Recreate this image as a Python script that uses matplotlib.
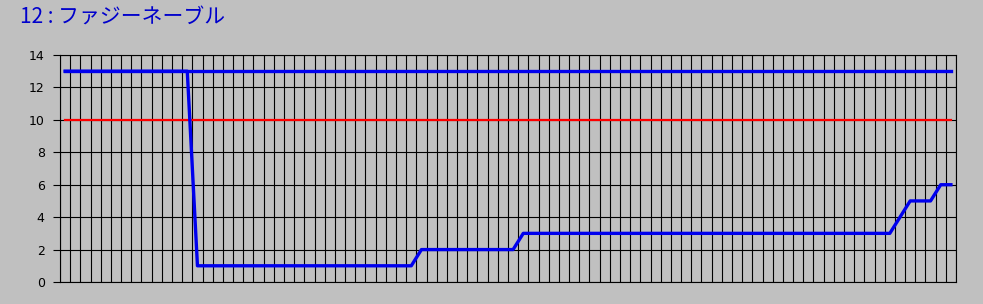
import numpy as np
import matplotlib
matplotlib.use("Agg")
import matplotlib.pyplot as plt

title = "12 : ファジーネーブル"

# max line, limit line and the measured series (one value per category)
max_line = [13] * 88
limit_line = [10] * 88
values = [13, 13, 13, 13, 13, 13, 13, 13, 13, 13, 13, 13, 13,
          1, 1, 1, 1, 1, 1, 1, 1, 1, 1, 1, 1, 1, 1, 1, 1, 1, 1, 1, 1, 1, 1,
          2, 2, 2, 2, 2, 2, 2, 2, 2, 2,
          3, 3, 3, 3, 3, 3, 3, 3, 3, 3, 3, 3, 3, 3, 3, 3, 3, 3, 3, 3, 3, 3,
          3, 3, 3, 3, 3, 3, 3, 3, 3, 3, 3, 3, 3, 3, 3,
          4, 5, 5, 5, 6, 6]
yticks = [0, 2, 4, 6, 8, 10, 12, 14]

bg = "#c0c0c0"
fig = plt.figure(figsize=(9.83, 3.04), dpi=100, facecolor=bg)
ax = fig.add_axes([60 / 983, 22 / 304, 896 / 983, 227 / 304], facecolor=bg)

n = len(values)
x = np.arange(n) + 0.5

ax.plot(x, limit_line, color="#ff0000", lw=1.6, zorder=3)
ax.plot(x, max_line, color="#0000ee", lw=2.4, zorder=4, solid_capstyle="projecting")
ax.plot(x, values, color="#0000ee", lw=2.4, zorder=4, solid_capstyle="projecting")

ax.set_xlim(0, n)
ax.set_ylim(0, 14)
ax.set_xticks(np.arange(n + 1))
ax.set_xticklabels([])
ax.tick_params(axis="x", length=0)
ax.set_yticks(yticks)
ax.set_yticklabels([str(v) for v in yticks], fontsize=9)
ax.tick_params(axis="y", length=5, width=0.8, color="black", pad=6)
ax.grid(True, color="black", lw=0.8)
ax.set_axisbelow(True)
for s in ax.spines.values():
    s.set_color("black")
    s.set_linewidth(0.8)

fig.text(20 / 983, 1 - 17 / 304, title, color="#0000cc", fontsize=15,
         va="center", ha="left", family=["Noto Sans CJK JP", "DejaVu Sans"])

fig.savefig("out.png", dpi=100, facecolor=bg)
